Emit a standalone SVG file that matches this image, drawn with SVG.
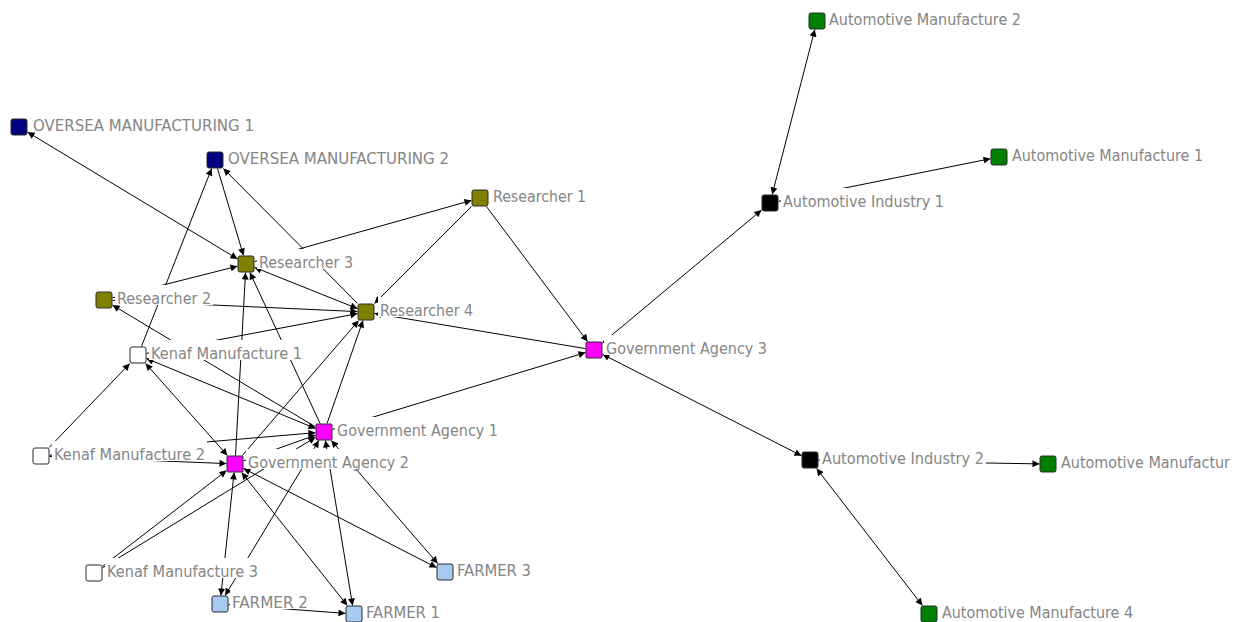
<svg xmlns="http://www.w3.org/2000/svg" width="1240" height="622" viewBox="0 0 1240 622">
<defs>
<marker id="ar" viewBox="0 0 10 10" refX="10" refY="5" markerWidth="9" markerHeight="7" markerUnits="userSpaceOnUse" orient="auto-start-reverse"><path d="M0,0 L10,5 L0,10 z" fill="#000"/></marker>
<style>
.e{stroke:#000;stroke-width:1;fill:none;marker-end:url(#ar)}
.b{marker-start:url(#ar)}
.n{stroke:#2a2a2a;stroke-width:1}
.lb{fill:#fff}
.t{font-family:"DejaVu Sans Condensed","DejaVu Sans",sans-serif;font-stretch:condensed;font-size:16px;fill:#858585}
</style>
</defs>
<rect width="1240" height="622" fill="#fff"/>
<g id="connectors">
<path class="e b" d="M27.5,132.1 L237.5,258.9"/>
<path class="e" d="M217.5,168.5 L243.5,255.5"/>
<path class="e" d="M141.4,346.5 L211.6,168.5"/>
<path class="e" d="M112.5,297.8 L237.5,266.2"/>
<path class="e" d="M254.5,261.6 L471.5,200.4"/>
<path class="e" d="M357.6,303.5 L223.4,168.5"/>
<path class="e" d="M471.5,206.5 L374.5,303.5"/>
<path class="e" d="M486.4,206.5 L587.6,341.5"/>
<path class="e" d="M585.5,348.6 L374.5,313.4"/>
<path class="e" d="M332.5,429.4 L585.5,352.6"/>
<path class="e b" d="M602.5,342.9 L761.5,210.1"/>
<path class="e b" d="M772.2,194.5 L814.8,29.5"/>
<path class="e" d="M778.5,201.3 L990.5,158.7"/>
<path class="e b" d="M602.5,354.3 L801.5,455.7"/>
<path class="e" d="M818.5,460.1 L1039.5,463.9"/>
<path class="e b" d="M816.6,468.5 L922.4,605.5"/>
<path class="e" d="M112.5,300.4 L357.5,311.6"/>
<path class="e" d="M315.5,426.9 L112.5,305.1"/>
<path class="e" d="M146.5,353.4 L357.5,313.6"/>
<path class="e" d="M235.5,455.5 L245.5,272.5"/>
<path class="e" d="M320.1,423.5 L249.9,272.5"/>
<path class="e b" d="M254.5,267.4 L357.5,308.6"/>
<path class="e" d="M242.3,455.5 L358.7,320.5"/>
<path class="e" d="M327,423.5 L363,320.5"/>
<path class="e b" d="M145.6,363.5 L227.4,455.5"/>
<path class="e b" d="M146.5,358.5 L315.5,428.5"/>
<path class="e" d="M49.2,447.5 L129.8,363.5"/>
<path class="e" d="M49.5,456.4 L226.5,463.6"/>
<path class="e" d="M49.5,455.3 L315.5,432.7"/>
<path class="e" d="M102.5,566.4 L226.5,470.6"/>
<path class="e" d="M102.5,567.8 L315.5,437.2"/>
<path class="e" d="M243.5,460.9 L315.5,435.1"/>
<path class="e b" d="M325.4,440.5 L352.6,605.5"/>
<path class="e b" d="M318.9,440.5 L225.1,595.5"/>
<path class="e b" d="M331.3,440.5 L437.7,563.5"/>
<path class="e b" d="M241.7,472.5 L347.3,605.5"/>
<path class="e b" d="M234.1,472.5 L220.9,595.5"/>
<path class="e b" d="M243.5,468.4 L436.5,567.6"/>
<path class="e" d="M228.5,604.6 L345.5,613.4"/>
</g>
<g id="om1"><rect class="n" x="11" y="119" width="16" height="16" rx="2" fill="#000080"/><rect class="lb" x="31" y="112" width="225" height="20"/><text class="t" x="33" y="131" textLength="221" lengthAdjust="spacingAndGlyphs">OVERSEA MANUFACTURING 1</text></g>
<g id="om2"><rect class="n" x="207" y="152" width="16" height="16" rx="2" fill="#000080"/><rect class="lb" x="226" y="145" width="225" height="20"/><text class="t" x="228" y="164" textLength="221" lengthAdjust="spacingAndGlyphs">OVERSEA MANUFACTURING 2</text></g>
<g id="r1"><rect class="n" x="472" y="190" width="16" height="16" rx="2" fill="#808000"/><rect class="lb" x="491" y="183" width="97" height="20"/><text class="t" x="493" y="202" textLength="93" lengthAdjust="spacingAndGlyphs">Researcher 1</text></g>
<g id="r2"><rect class="n" x="96" y="292" width="16" height="16" rx="2" fill="#808000"/><rect class="lb" x="115" y="285" width="98" height="20"/><text class="t" x="117" y="304" textLength="94" lengthAdjust="spacingAndGlyphs">Researcher 2</text></g>
<g id="r3"><rect class="n" x="238" y="256" width="16" height="16" rx="2" fill="#808000"/><rect class="lb" x="257" y="249" width="98" height="20"/><text class="t" x="259" y="268" textLength="94" lengthAdjust="spacingAndGlyphs">Researcher 3</text></g>
<g id="r4"><rect class="n" x="358" y="304" width="16" height="16" rx="2" fill="#808000"/><rect class="lb" x="378" y="297" width="97" height="20"/><text class="t" x="380" y="316" textLength="93" lengthAdjust="spacingAndGlyphs">Researcher 4</text></g>
<g id="km1"><rect class="n" x="130" y="347" width="16" height="16" rx="2" fill="#fff"/><rect class="lb" x="149" y="340" width="155" height="20"/><text class="t" x="151" y="359" textLength="151" lengthAdjust="spacingAndGlyphs">Kenaf Manufacture 1</text></g>
<g id="km2"><rect class="n" x="33" y="448" width="16" height="16" rx="2" fill="#fff"/><rect class="lb" x="52" y="441" width="155" height="20"/><text class="t" x="54" y="460" textLength="151" lengthAdjust="spacingAndGlyphs">Kenaf Manufacture 2</text></g>
<g id="km3"><rect class="n" x="86" y="565" width="16" height="16" rx="2" fill="#fff"/><rect class="lb" x="105" y="558" width="155" height="20"/><text class="t" x="107" y="577" textLength="151" lengthAdjust="spacingAndGlyphs">Kenaf Manufacture 3</text></g>
<g id="ga1"><rect class="n" x="316" y="424" width="16" height="16" rx="1" fill="#ff00ff"/><rect class="lb" x="335" y="417" width="165" height="20"/><text class="t" x="337" y="436" textLength="161" lengthAdjust="spacingAndGlyphs">Government Agency 1</text></g>
<g id="ga2"><rect class="n" x="227" y="456" width="16" height="16" rx="1" fill="#ff00ff"/><rect class="lb" x="246" y="449" width="165" height="20"/><text class="t" x="248" y="468" textLength="161" lengthAdjust="spacingAndGlyphs">Government Agency 2</text></g>
<g id="ga3"><rect class="n" x="586" y="342" width="16" height="16" rx="1" fill="#ff00ff"/><rect class="lb" x="604" y="335" width="165" height="20"/><text class="t" x="606" y="354" textLength="161" lengthAdjust="spacingAndGlyphs">Government Agency 3</text></g>
<g id="f1"><rect class="n" x="346" y="606" width="16" height="16" rx="2" fill="#a6caf0"/><rect class="lb" x="364" y="599" width="78" height="20"/><text class="t" x="366" y="618" textLength="74" lengthAdjust="spacingAndGlyphs">FARMER 1</text></g>
<g id="f2"><rect class="n" x="212" y="596" width="16" height="16" rx="2" fill="#a6caf0"/><rect class="lb" x="230" y="589" width="80" height="20"/><text class="t" x="232" y="608" textLength="76" lengthAdjust="spacingAndGlyphs">FARMER 2</text></g>
<g id="f3"><rect class="n" x="437" y="564" width="16" height="16" rx="2" fill="#a6caf0"/><rect class="lb" x="455" y="557" width="78" height="20"/><text class="t" x="457" y="576" textLength="74" lengthAdjust="spacingAndGlyphs">FARMER 3</text></g>
<g id="ai1"><rect class="n" x="762" y="195" width="16" height="16" rx="2" fill="#000"/><rect class="lb" x="781" y="188" width="165" height="20"/><text class="t" x="783" y="207" textLength="161" lengthAdjust="spacingAndGlyphs">Automotive Industry 1</text></g>
<g id="ai2"><rect class="n" x="802" y="452" width="16" height="16" rx="2" fill="#000"/><rect class="lb" x="820" y="445" width="166" height="20"/><text class="t" x="822" y="464" textLength="162" lengthAdjust="spacingAndGlyphs">Automotive Industry 2</text></g>
<g id="am1"><rect class="n" x="991" y="149" width="16" height="16" rx="2" fill="#008000"/><rect class="lb" x="1010" y="142" width="195" height="20"/><text class="t" x="1012" y="161" textLength="191" lengthAdjust="spacingAndGlyphs">Automotive Manufacture 1</text></g>
<g id="am2"><rect class="n" x="809" y="13" width="16" height="16" rx="2" fill="#008000"/><rect class="lb" x="827" y="6" width="196" height="20"/><text class="t" x="829" y="25" textLength="192" lengthAdjust="spacingAndGlyphs">Automotive Manufacture 2</text></g>
<g id="am3"><rect class="n" x="1040" y="456" width="16" height="16" rx="2" fill="#008000"/><rect class="lb" x="1059" y="449" width="173" height="20"/><text class="t" x="1061" y="468" textLength="169" lengthAdjust="spacingAndGlyphs">Automotive Manufactur</text></g>
<g id="am4"><rect class="n" x="921" y="606" width="16" height="16" rx="2" fill="#008000"/><rect class="lb" x="940" y="599" width="195" height="20"/><text class="t" x="942" y="618" textLength="191" lengthAdjust="spacingAndGlyphs">Automotive Manufacture 4</text></g>
</svg>
